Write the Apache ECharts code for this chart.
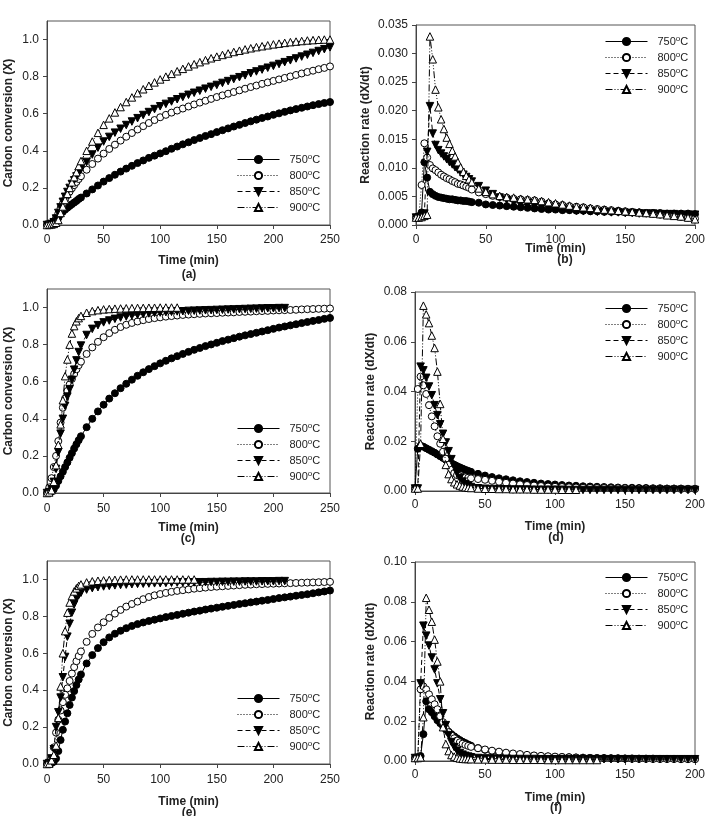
<!DOCTYPE html>
<html>
<head>
<meta charset="utf-8">
<script src="https://cdn.jsdelivr.net/npm/echarts@6/dist/echarts.min.js"></script>
<style>
html,body{margin:0;padding:0;background:#fff;}
#main{width:708px;height:816px;}
</style>
</head>
<body>
<div id="main"></div>
<script>
// time grids (min)
var tConv = [0,2,4,6,8,10,12,14,16,18,20,22,24,26,28,30,
  35,40,45,50,55,60,65,70,75,80,85,90,95,100,105,110,115,120,125,130,
  135,140,145,150,155,160,165,170,175,180,185,190,195,200,205,210,215,220,225,230,
  235,240,245,250];
var tRate = [0,2,4,6,8,10,12,14,16,18,20,22,24,26,28,30,32,34,36,38,40,
  45,50,55,60,65,70,75,80,85,90,95,100,105,110,115,120,125,130,135,140,
  145,150,155,160,165,170,175,180,185,190,195,200];

var names = ['750°C','800°C','850°C','900°C'];

// (a) carbon conversion
var convA750 = [0,0.002,0.005,0.010,0.020,0.038,0.058,0.072,0.083,0.093,0.103,0.112,0.121,0.130,0.140,0.148,
  0.170,0.192,0.213,0.234,0.253,0.271,0.288,0.304,0.319,0.334,0.348,0.362,0.374,0.386,0.398,0.411,0.423,0.435,0.446,0.458,
  0.469,0.480,0.490,0.501,0.511,0.521,0.531,0.540,0.550,0.559,0.568,0.577,0.585,0.594,0.602,0.610,0.618,0.625,0.632,0.639,
  0.646,0.652,0.658,0.663];
var convA800 = [0,0.003,0.008,0.020,0.038,0.062,0.090,0.115,0.138,0.160,0.180,0.198,0.215,0.232,0.248,0.263,
  0.298,0.329,0.358,0.385,0.410,0.433,0.455,0.476,0.496,0.515,0.533,0.550,0.566,0.581,0.594,0.606,0.617,0.628,0.639,0.650,
  0.660,0.670,0.680,0.690,0.699,0.708,0.717,0.726,0.735,0.744,0.752,0.761,0.769,0.777,0.785,0.793,0.801,0.809,0.817,0.825,
  0.832,0.840,0.847,0.855];
var convA850 = [0,0.002,0.006,0.015,0.035,0.065,0.095,0.125,0.152,0.178,0.200,0.221,0.241,0.262,0.281,0.300,
  0.340,0.380,0.417,0.450,0.475,0.498,0.519,0.539,0.558,0.576,0.593,0.609,0.625,0.640,0.653,0.666,0.678,0.690,0.702,0.713,
  0.724,0.735,0.745,0.755,0.766,0.776,0.787,0.797,0.807,0.818,0.828,0.838,0.848,0.858,0.868,0.878,0.888,0.898,0.908,0.918,
  0.928,0.938,0.948,0.958];
var convA900 = [0,0.001,0.003,0.006,0.012,0.027,0.065,0.100,0.135,0.168,0.200,0.230,0.258,0.285,0.318,0.345,
  0.400,0.450,0.497,0.540,0.575,0.607,0.636,0.663,0.688,0.711,0.732,0.751,0.769,0.785,0.800,0.815,0.829,0.842,0.855,0.867,
  0.878,0.889,0.899,0.908,0.917,0.925,0.933,0.940,0.947,0.953,0.959,0.964,0.969,0.974,0.978,0.982,0.986,0.989,0.992,0.995,
  0.997,0.999,1.000,1.000];

// (b) reaction rate
var rateB750 = [0.0013,0.0014,0.0022,0.0110,0.0083,0.0058,0.0054,0.0051,0.0049,0.0048,0.0047,0.0046,0.0045,0.0045,0.0044,0.0043,0.0043,0.0042,0.0042,0.0041,0.0040,
  0.0039,0.0036,0.0035,0.0034,0.0033,0.0032,0.0031,0.0030,0.0029,0.0028,0.0027,0.0027,0.0026,0.0026,0.0025,0.0025,0.0024,0.0024,0.0023,0.0023,
  0.0023,0.0022,0.0022,0.0022,0.0021,0.0021,0.0021,0.0020,0.0020,0.0020,0.0020,0.0019];
var rateB800 = [0.0013,0.0015,0.0070,0.0143,0.0118,0.0105,0.0099,0.0096,0.0092,0.0088,0.0085,0.0082,0.0080,0.0077,0.0075,0.0072,0.0071,0.0069,0.0067,0.0065,0.0062,
  0.0057,0.0054,0.0051,0.0049,0.0048,0.0046,0.0045,0.0044,0.0043,0.0041,0.0038,0.0036,0.0035,0.0033,0.0032,0.0031,0.0029,0.0028,0.0027,0.0026,
  0.0025,0.0024,0.0023,0.0022,0.0021,0.0020,0.0018,0.0017,0.0016,0.0014,0.0013,0.0011];
var rateB850 = [0.0013,0.0013,0.0015,0.0020,0.0128,0.0208,0.0160,0.0140,0.0131,0.0125,0.0120,0.0115,0.0110,0.0106,0.0101,0.0097,0.0092,0.0088,0.0084,0.0080,0.0076,
  0.0068,0.0060,0.0054,0.0048,0.0044,0.0040,0.0037,0.0035,0.0033,0.0031,0.0029,0.0028,0.0027,0.0026,0.0025,0.0024,0.0024,0.0023,0.0023,0.0022,
  0.0022,0.0021,0.0021,0.0020,0.0020,0.0020,0.0019,0.0019,0.0019,0.0018,0.0018,0.0018];
var rateB900 = [0.0013,0.0013,0.0014,0.0016,0.0018,0.0330,0.0290,0.0237,0.0206,0.0185,0.0168,0.0153,0.0142,0.0130,0.0120,0.0110,0.0101,0.0093,0.0086,0.0080,0.0075,
  0.0064,0.0058,0.0054,0.0051,0.0049,0.0048,0.0046,0.0045,0.0044,0.0042,0.0040,0.0038,0.0036,0.0034,0.0032,0.0031,0.0030,0.0028,0.0027,0.0026,
  0.0025,0.0024,0.0023,0.0022,0.0021,0.0020,0.0019,0.0017,0.0016,0.0015,0.0013,0.0010];

// (c) carbon conversion
var convC750 = [0,0.002,0.008,0.020,0.040,0.065,0.090,0.115,0.140,0.165,0.190,0.215,0.240,0.263,0.285,0.306,
  0.355,0.400,0.440,0.476,0.509,0.538,0.565,0.589,0.611,0.632,0.651,0.668,0.684,0.699,0.713,0.726,0.738,0.750,0.761,0.772,
  0.782,0.792,0.801,0.810,0.819,0.827,0.835,0.843,0.850,0.857,0.864,0.871,0.878,0.885,0.892,0.898,0.904,0.910,0.916,0.922,
  0.928,0.933,0.939,0.944];
var convC800 = [0,0.030,0.080,0.140,0.200,0.280,0.380,0.460,0.510,0.550,0.585,0.615,0.642,0.667,0.689,0.708,
  0.750,0.785,0.815,0.840,0.862,0.880,0.895,0.907,0.917,0.925,0.932,0.938,0.943,0.947,0.951,0.954,0.957,0.960,0.962,0.964,
  0.966,0.968,0.969,0.970,0.972,0.973,0.974,0.976,0.977,0.978,0.980,0.981,0.982,0.984,0.985,0.986,0.987,0.988,0.990,0.991,
  0.992,0.993,0.994,0.995];
var convC850 = [0,0.005,0.020,0.060,0.130,0.220,0.320,0.400,0.470,0.520,0.560,0.610,0.665,0.715,0.760,0.795,
  0.852,0.885,0.905,0.920,0.930,0.939,0.946,0.952,0.957,0.961,0.965,0.968,0.971,0.973,0.975,0.977,0.979,0.980,0.982,0.983,
  0.984,0.985,0.986,0.987,0.988,0.989,0.990,0.991,0.992,0.993,0.994,0.995,0.996,0.996,0.997,0.997];
var convC900 = [0,0.003,0.015,0.060,0.150,0.260,0.370,0.500,0.630,0.720,0.800,0.860,0.900,0.926,0.943,0.955,
  0.972,0.981,0.986,0.990,0.992,0.994,0.995,0.996,0.997,0.998,0.998,0.999,0.999,1.000,1.000,1.000,1.000];

// (d) reaction rate
var rateD750 = [0.0010,0.0170,0.0182,0.0178,0.0172,0.0166,0.0160,0.0154,0.0147,0.0140,0.0133,0.0126,0.0119,0.0112,0.0106,0.0100,0.0095,0.0090,0.0085,0.0081,0.0077,
  0.0069,0.0062,0.0056,0.0051,0.0047,0.0043,0.0039,0.0036,0.0033,0.0030,0.0028,0.0026,0.0024,0.0022,0.0021,0.0019,0.0018,0.0017,0.0016,0.0015,
  0.0014,0.0013,0.0013,0.0012,0.0012,0.0011,0.0011,0.0010,0.0010,0.0010,0.0009,0.0009];
var rateD800 = [0.0010,0.0410,0.0460,0.0425,0.0390,0.0345,0.0300,0.0260,0.0220,0.0190,0.0158,0.0130,0.0105,0.0085,0.0072,0.0064,0.0060,0.0057,0.0055,0.0053,0.0051,
  0.0048,0.0045,0.0041,0.0037,0.0033,0.0030,0.0027,0.0024,0.0022,0.0020,0.0018,0.0017,0.0016,0.0015,0.0014,0.0013,0.0013,0.0012,0.0012,0.0011,
  0.0011,0.0011,0.0010,0.0010,0.0010,0.0009,0.0009,0.0009,0.0009,0.0008,0.0008,0.0008];
var rateD850 = [0.0010,0.0010,0.0500,0.0485,0.0455,0.0420,0.0385,0.0345,0.0305,0.0268,0.0230,0.0195,0.0160,0.0128,0.0098,0.0072,0.0052,0.0038,0.0028,0.0021,0.0016,
  0.0011,0.0009,0.0008,0.0007,0.0007,0.0006,0.0006,0.0006,0.0005,0.0005,0.0005,0.0005,0.0005,0.0004,0.0004,0.0004,0.0004,0.0004,0.0004,0.0004,
  0.0004,0.0004,0.0004,0.0004,0.0004,0.0004,0.0004,0.0004,0.0004,0.0004,0.0004,0.0004];
var rateD900 = [0.0010,0.0010,0.0190,0.0745,0.0710,0.0675,0.0625,0.0575,0.0480,0.0350,0.0210,0.0105,0.0068,0.0048,0.0035,0.0027,0.0022,0.0018,0.0015,0.0013,0.0012,
  0.0010,0.0009,0.0009,0.0008,0.0008,0.0007,0.0007,0.0007,0.0006,0.0006,0.0006,0.0006,0.0005,0.0005,0.0005];

// (e) carbon conversion
var convE750 = [0,0,0.005,0.012,0.030,0.070,0.130,0.185,0.230,0.275,0.320,0.360,0.395,0.428,0.458,0.485,
  0.545,0.590,0.628,0.660,0.686,0.706,0.722,0.736,0.748,0.758,0.767,0.775,0.782,0.789,0.796,0.802,0.808,0.814,0.820,0.826,
  0.831,0.837,0.842,0.847,0.852,0.857,0.862,0.867,0.871,0.876,0.880,0.885,0.889,0.894,0.899,0.903,0.907,0.912,0.916,0.920,
  0.925,0.930,0.935,0.940];
var convE800 = [0,0.005,0.030,0.090,0.170,0.240,0.290,0.335,0.375,0.410,0.450,0.490,0.525,0.557,0.585,0.610,
  0.662,0.705,0.740,0.768,0.792,0.815,0.835,0.853,0.867,0.880,0.893,0.905,0.914,0.921,0.927,0.933,0.938,0.942,0.946,0.950,
  0.953,0.956,0.959,0.961,0.963,0.965,0.967,0.969,0.971,0.972,0.974,0.975,0.976,0.977,0.978,0.979,0.980,0.981,0.982,0.983,
  0.984,0.985,0.986,0.987];
var convE850 = [0,0.005,0.030,0.080,0.200,0.280,0.360,0.470,0.580,0.690,0.760,0.820,0.865,0.895,0.915,0.928,
  0.945,0.953,0.958,0.962,0.965,0.968,0.970,0.972,0.974,0.976,0.977,0.978,0.979,0.980,0.981,0.982,0.983,0.983,0.984,0.984,
  0.985,0.985,0.986,0.986,0.987,0.987,0.988,0.988,0.989,0.989,0.989,0.990,0.990,0.990,0.991,0.991];
var convE900 = [0,0.002,0.020,0.050,0.100,0.250,0.420,0.600,0.720,0.820,0.875,0.910,0.935,0.952,0.965,0.973,
  0.984,0.990,0.993,0.995,0.997,0.998,0.999,1.000,1.000,1.000,1.000,1.000,1.000,1.000,1.000,1.000,1.000,1.000,1.000,1.000];

// (f) reaction rate
var rateF750 = [0.0015,0.0015,0.0025,0.0135,0.0300,0.0260,0.0245,0.0225,0.0205,0.0190,0.0175,0.0160,0.0147,0.0135,0.0124,0.0114,0.0105,0.0097,0.0090,0.0083,0.0077,
  0.0065,0.0056,0.0049,0.0043,0.0038,0.0034,0.0031,0.0028,0.0026,0.0024,0.0022,0.0021,0.0020,0.0019,0.0018,0.0017,0.0016,0.0015,0.0015,0.0014,
  0.0014,0.0013,0.0013,0.0012,0.0012,0.0012,0.0011,0.0011,0.0011,0.0010,0.0010,0.0010];
var rateF800 = [0.0015,0.0020,0.0360,0.0375,0.0360,0.0335,0.0310,0.0285,0.0260,0.0225,0.0195,0.0165,0.0145,0.0128,0.0114,0.0103,0.0094,0.0087,0.0081,0.0076,0.0071,
  0.0064,0.0058,0.0052,0.0047,0.0042,0.0038,0.0035,0.0031,0.0028,0.0026,0.0024,0.0022,0.0020,0.0019,0.0017,0.0016,0.0015,0.0014,0.0013,0.0013,
  0.0012,0.0012,0.0011,0.0011,0.0011,0.0010,0.0010,0.0010,0.0010,0.0009,0.0009,0.0009];
var rateF850 = [0.0015,0.0015,0.0390,0.0680,0.0630,0.0580,0.0520,0.0460,0.0390,0.0310,0.0240,0.0180,0.0130,0.0095,0.0070,0.0052,0.0040,0.0032,0.0026,0.0022,0.0019,
  0.0015,0.0013,0.0012,0.0011,0.0011,0.0010,0.0010,0.0010,0.0010,0.0009,0.0009,0.0009,0.0009,0.0009,0.0009,0.0009,0.0009,0.0009,0.0009,0.0009,
  0.0009,0.0009,0.0009,0.0009,0.0009,0.0009,0.0009,0.0009,0.0009,0.0009,0.0009,0.0009];
var rateF900 = [0.0015,0.0015,0.0018,0.0220,0.0820,0.0760,0.0700,0.0610,0.0500,0.0400,0.0170,0.0085,0.0050,0.0030,0.0022,0.0016,0.0013,0.0011,0.0010,0.0010,0.0009,
  0.0008,0.0008,0.0007,0.0007,0.0007,0.0006,0.0006,0.0006,0.0006,0.0006,0.0005,0.0005,0.0005,0.0005,0.0005,0.0005,0.0005,0.0005];

var font = 'Liberation Sans, Arial, sans-serif';

// marker / line look per temperature
var looks = [
  {symbol: 'circle', size: 7, rotate: 0, fill: '#000', dash: 'solid'},
  {symbol: 'circle', size: 7, rotate: 0, fill: '#fff', dash: [1, 2]},
  {symbol: 'triangle', size: 7.5, rotate: 180, fill: '#000', dash: [5, 3]},
  {symbol: 'triangle', size: 7.5, rotate: 0, fill: '#fff', dash: [7, 2, 1, 2, 1, 2]}
];

var panels = [
  {sub: '(a)', left: 47, top: 21, w: 283, h: 204, t: tConv, xMax: 250, yMax: 1.1, yStep: 0.2, dig: 1,
   yName: 'Carbon conversion (X)', yGap: 32, xGap: 30, lblM: 9, lgL: 237, lgT: 153, subX: 189, subT: 269,
   series: [convA750, convA800, convA850, convA900]},
  {sub: '(b)', left: 416, top: 25, w: 279, h: 200, t: tRate, xMax: 200, yMax: 0.035, yStep: 0.005, dig: 3,
   yName: 'Reaction rate (dX/dt)', yGap: 44, xGap: 18, lblM: 9, lgL: 605, lgT: 35, subX: 565, subT: 254,
   series: [rateB750, rateB800, rateB850, rateB900]},
  {sub: '(c)', left: 47, top: 289, w: 283, h: 204, t: tConv, xMax: 250, yMax: 1.1, yStep: 0.2, dig: 1,
   yName: 'Carbon conversion (X)', yGap: 32, xGap: 29, lblM: 10, lgL: 237, lgT: 422, subX: 188, subT: 533,
   series: [convC750, convC800, convC850, convC900]},
  {sub: '(d)', left: 415, top: 292, w: 280, h: 199, t: tRate, xMax: 200, yMax: 0.08, yStep: 0.02, dig: 2,
   yName: 'Reaction rate (dX/dt)', yGap: 38, xGap: 30, lblM: 8, lgL: 605, lgT: 302, subX: 556, subT: 532,
   series: [rateD750, rateD800, rateD850, rateD900]},
  {sub: '(e)', left: 47, top: 561, w: 283, h: 203, t: tConv, xMax: 250, yMax: 1.1, yStep: 0.2, dig: 1,
   yName: 'Carbon conversion (X)', yGap: 32, xGap: 32, lblM: 10, lgL: 237, lgT: 692, subX: 189, subT: 807,
   series: [convE750, convE800, convE850, convE900]},
  {sub: '(f)', left: 415, top: 562, w: 280, h: 199, t: tRate, xMax: 200, yMax: 0.10, yStep: 0.02, dig: 2,
   yName: 'Reaction rate (dX/dt)', yGap: 38, xGap: 31, lblM: 8, lgL: 605, lgT: 571, subX: 556, subT: 802,
   series: [rateF750, rateF800, rateF850, rateF900]}
];

function pairs(t, v) {
  var out = [];
  for (var i = 0; i < v.length; i++) out.push([t[i], v[i]]);
  return out;
}

var option = {
  animation: false,
  backgroundColor: '#fff',
  textStyle: {fontFamily: font},
  title: [], grid: [], xAxis: [], yAxis: [], legend: [], series: []
};

panels.forEach(function (p, k) {
  option.grid.push({left: p.left, top: p.top, width: p.w, height: p.h, show: true,
    borderColor: '#555', borderWidth: 1, backgroundColor: 'transparent', outerBoundsMode: 'none'});
  option.xAxis.push({
    type: 'value', gridIndex: k, min: 0, max: p.xMax, interval: 50,
    name: 'Time (min)', nameLocation: 'middle', nameGap: p.xGap, nameMoveOverlap: false,
    nameTextStyle: {fontFamily: font, fontWeight: 'bold', fontSize: 12, color: '#222'},
    axisLine: {show: true, lineStyle: {color: '#444', width: 1}},
    axisTick: {show: true, inside: false, length: 4, lineStyle: {color: '#444'}},
    axisLabel: {margin: p.lblM, fontFamily: font, fontSize: 12, color: '#222'},
    splitLine: {show: false}
  });
  var dig = p.dig;
  option.yAxis.push({
    type: 'value', gridIndex: k, min: 0, max: p.yMax, interval: p.yStep,
    name: p.yName, nameLocation: 'middle', nameGap: p.yGap, nameMoveOverlap: false,
    nameTextStyle: {fontFamily: font, fontWeight: 'bold', fontSize: 12, color: '#222'},
    axisLine: {show: true, lineStyle: {color: '#444', width: 1}},
    axisTick: {show: true, inside: false, length: 4, lineStyle: {color: '#444'}},
    axisLabel: {margin: 8, fontFamily: font, fontSize: 12, color: '#222',
      showMaxLabel: p.yMax < 1 ? true : false,
      formatter: function (v) { return v.toFixed(dig); }},
    splitLine: {show: false}
  });
  option.title.push({text: p.sub, left: p.subX, top: p.subT, textAlign: 'center', padding: 0,
    textStyle: {fontFamily: font, fontWeight: 'bold', fontSize: 12, color: '#222'}});
  option.legend.push({
    orient: 'vertical', left: p.lgL, top: p.lgT, padding: 0,
    itemWidth: 42, itemHeight: 9, itemGap: 3.5, selectedMode: false,
    lineStyle: {width: 1},
    data: names,
    formatter: function (name) {
      return '{g|}{n|' + name.slice(0, 3) + '}{s|o}{n|C}';
    },
    textStyle: {
      fontFamily: font, color: '#222',
      rich: {
        g: {width: 5},
        n: {fontSize: 11, lineHeight: 13, fontFamily: font, color: '#222'},
        s: {fontSize: 8, lineHeight: 13, verticalAlign: 'top', fontFamily: font, color: '#222'}
      }
    }
  });
  p.series.forEach(function (vals, j) {
    var lk = looks[j];
    option.series.push({
      type: 'line', name: names[j], xAxisIndex: k, yAxisIndex: k,
      data: pairs(p.t, vals),
      symbol: lk.symbol, symbolSize: lk.size, symbolRotate: lk.rotate,
      showSymbol: true, showAllSymbol: true, silent: true,
      lineStyle: {color: '#000', width: 1, type: lk.dash},
      itemStyle: {color: lk.fill, borderColor: '#000', borderWidth: 1},
      emphasis: {disabled: true},
      z: 2 + j
    });
  });
});

var chart = echarts.init(document.getElementById('main'), null, {renderer: 'canvas'});
chart.setOption(option);
</script>
</body>
</html>
